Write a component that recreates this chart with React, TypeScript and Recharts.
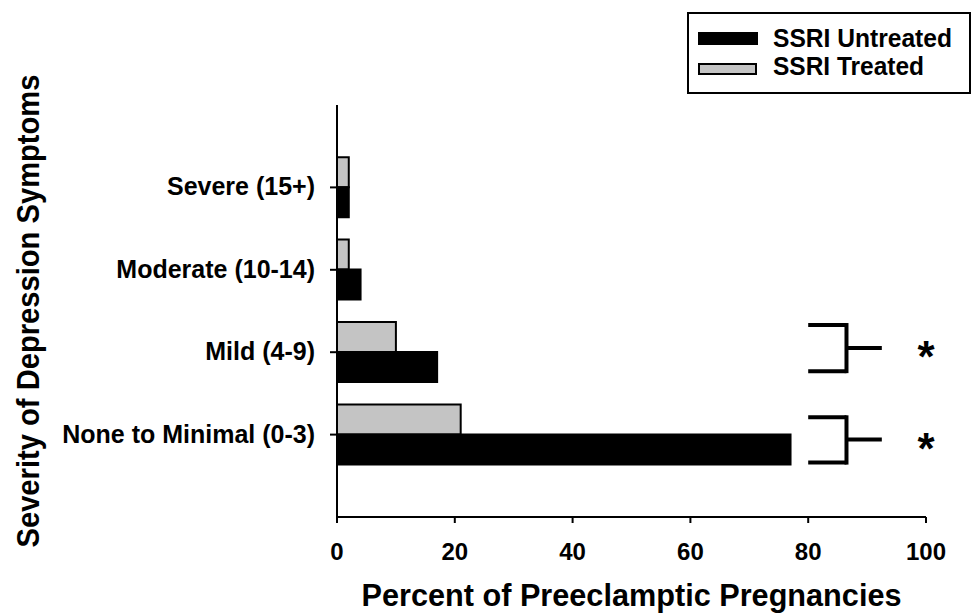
import React from 'react';
import {
  BarChart,
  Bar,
  XAxis,
  YAxis,
  ReferenceLine,
  ReferenceDot,
  Label,
} from 'recharts';

const categories = ['None to Minimal (0-3)', 'Mild (4-9)', 'Moderate (10-14)', 'Severe (15+)'];
const positions = [1, 2, 3, 4];
const untreated = [77, 17, 4, 2];
const treated = [21, 10, 2, 2];
const xTicks = [0, 20, 40, 60, 80, 100];

// significance brackets (in data units) for the two lowest rows
const sigTop = [1.21, 2.33];
const sigMid = [0.94, 2.05];
const sigBottom = [0.66, 1.77];
const bracketOpen = 80;
const bracketSpine = 86.5;
const bracketTail = 92.5;
const starX = 100;

const FONT = '"Liberation Sans", Arial, sans-serif';

const data = positions.map((pos, i) => ({
  pos,
  name: categories[i],
  untreated: untreated[i],
  treated: treated[i],
}));

const YTick = (props: any) => {
  const { x, y, payload } = props;
  const idx = positions.indexOf(payload.value);
  return (
    <text x={x} y={y} dy={8} textAnchor="end" fontFamily={FONT} fontWeight="bold" fontSize={25} fill="#000">
      {idx >= 0 ? categories[idx] : ''}
    </text>
  );
};

const XTick = (props: any) => {
  const { x, y, payload } = props;
  return (
    <text x={x} y={y} dy={15} textAnchor="middle" fontFamily={FONT} fontWeight="bold" fontSize={24} fill="#000">
      {payload.value}
    </text>
  );
};

const LegendBox = () => (
  <svg width={290} height={90} style={{ position: 'absolute', left: 685, top: 10 }}>
    <rect x={3} y={3} width={282} height={80} fill="#fff" stroke="#000" strokeWidth={2} />
    <rect x={13} y={22} width={60} height={13} fill="#000" />
    <text x={88} y={37} fontFamily={FONT} fontWeight="bold" fontSize={25} textLength={179} lengthAdjust="spacingAndGlyphs">
      SSRI Untreated
    </text>
    <rect x={14} y={54} width={57} height={10} fill="#c4c4c4" stroke="#000" strokeWidth={2} />
    <text x={88} y={65} fontFamily={FONT} fontWeight="bold" fontSize={25} textLength={151} lengthAdjust="spacingAndGlyphs">
      SSRI Treated
    </text>
  </svg>
);

const Star = (props: any) => (
  <text x={props.cx} y={props.cy + 24} textAnchor="middle" fontFamily={FONT} fontWeight="bold" fontSize={44} fill="#000">
    *
  </text>
);

export default function App() {
  return (
    <div style={{ position: 'absolute', left: 0, top: 0, width: 972, height: 613, background: '#fff' }}>
      <BarChart
        width={972}
        height={613}
        data={data}
        layout="vertical"
        margin={{ top: 105, right: 46, bottom: 0, left: 0 }}
        barGap={0}
      >
        <XAxis
          type="number"
          domain={[0, 100]}
          ticks={xTicks}
          tickSize={6}
          tickMargin={22}
          height={96}
          stroke="#000"
          strokeWidth={2}
          tick={<XTick />}
          allowDataOverflow
        >
          <Label
            content={(p: any) => {
              const vb = p.viewBox;
              return (
                <text
                  x={vb.x + vb.width / 2}
                  y={606}
                  textAnchor="middle"
                  fontFamily={FONT}
                  fontWeight="bold"
                  fontSize={31}
                  textLength={540}
                  lengthAdjust="spacingAndGlyphs"
                  fill="#000"
                >
                  Percent of Preeclamptic Pregnancies
                </text>
              );
            }}
          />
        </XAxis>
        <YAxis
          type="number"
          dataKey="pos"
          domain={[0, 5]}
          ticks={positions}
          reversed
          width={337}
          tickSize={7}
          tickMargin={15}
          stroke="#000"
          strokeWidth={2}
          tick={<YTick />}
          allowDataOverflow
        >
          <Label
            content={() => (
              <text
                x={39}
                y={311}
                transform="rotate(-90 39 311)"
                textAnchor="middle"
                fontFamily={FONT}
                fontWeight="bold"
                fontSize={31}
                textLength={473}
                lengthAdjust="spacingAndGlyphs"
                fill="#000"
              >
                Severity of Depression Symptoms
              </text>
            )}
          />
        </YAxis>
        <Bar dataKey="treated" name="SSRI Treated" fill="#c4c4c4" stroke="#000" strokeWidth={2} barSize={30} isAnimationActive={false} />
        <Bar dataKey="untreated" name="SSRI Untreated" fill="#000" stroke="#000" strokeWidth={2} barSize={30} isAnimationActive={false} />
        {sigTop.map((t, i) => (
          <ReferenceLine
            key={`top-${i}`}
            segment={[{ x: bracketOpen, y: t }, { x: bracketSpine, y: t }]}
            stroke="#000"
            strokeWidth={4}
            ifOverflow="visible"
          />
        ))}
        {sigBottom.map((b, i) => (
          <ReferenceLine
            key={`bot-${i}`}
            segment={[{ x: bracketOpen, y: b }, { x: bracketSpine, y: b }]}
            stroke="#000"
            strokeWidth={4}
            ifOverflow="visible"
          />
        ))}
        {sigTop.map((t, i) => (
          <ReferenceLine
            key={`spine-${i}`}
            segment={[{ x: bracketSpine, y: t + 0.024 }, { x: bracketSpine, y: sigBottom[i] - 0.024 }]}
            stroke="#000"
            strokeWidth={4}
            ifOverflow="visible"
          />
        ))}
        {sigMid.map((m, i) => (
          <ReferenceLine
            key={`mid-${i}`}
            segment={[{ x: bracketSpine, y: m }, { x: bracketTail, y: m }]}
            stroke="#000"
            strokeWidth={4}
            ifOverflow="visible"
          />
        ))}
        {sigMid.map((m, i) => (
          <ReferenceDot key={`star-${i}`} x={starX} y={m} r={0} shape={<Star />} ifOverflow="visible" />
        ))}
      </BarChart>
      <LegendBox />
    </div>
  );
}
